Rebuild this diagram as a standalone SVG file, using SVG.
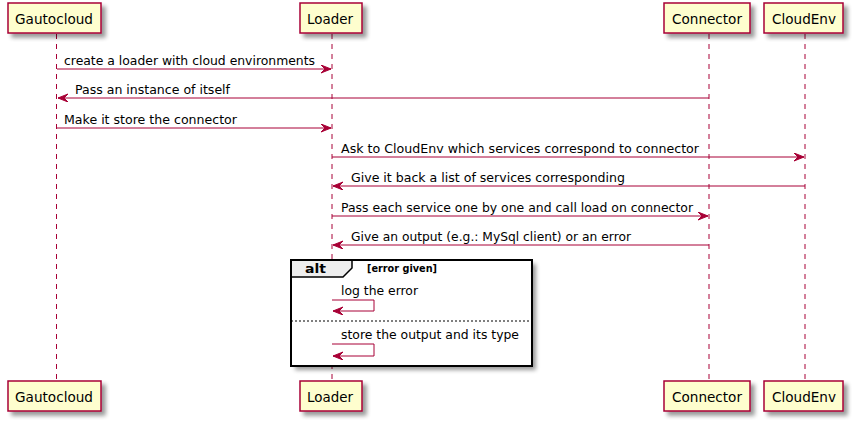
<svg xmlns="http://www.w3.org/2000/svg" width="854" height="422" viewBox="0 0 854 422">
<style>
.box{fill:#FEFECE;stroke:#A80036;stroke-width:1.5}
.life{stroke:#A80036;stroke-width:1;stroke-dasharray:5,5;fill:none}
.msg{stroke:#A80036;stroke-width:1;fill:none}
.pt{font-family:"DejaVu Sans",sans-serif;font-size:14px;fill:#000}
.mt{font-family:"DejaVu Sans",sans-serif;font-size:12.5px;fill:#000}
.alt{fill:none;stroke:#000;stroke-width:2}
</style>
<defs>
<filter id="sh" x="-20%" y="-20%" width="150%" height="160%">
<feGaussianBlur in="SourceAlpha" stdDeviation="2"/>
<feOffset dx="4" dy="4" result="b"/>
<feComponentTransfer><feFuncA type="linear" slope="0.4"/></feComponentTransfer>
<feMerge><feMergeNode/><feMergeNode in="SourceGraphic"/></feMerge>
</filter>
<marker id="ah" markerUnits="userSpaceOnUse" markerWidth="11" markerHeight="9" refX="10" refY="4" orient="auto" viewBox="0 0 11 9">
<path d="M0,0 L10,4 L0,8 L4,4 Z" fill="#A80036" stroke="#A80036" stroke-width="1"/>
</marker>
</defs>
<rect width="854" height="422" fill="#FFFFFF"/>
<g id="lifelines">
<line class="life" x1="56.5" y1="34" x2="56.5" y2="381"/>
<line class="life" x1="332" y1="34" x2="332" y2="381"/>
<line class="life" x1="709" y1="34" x2="709" y2="381"/>
<line class="life" x1="805" y1="34" x2="805" y2="381"/>
</g>
<g id="alt-frame">
<rect x="291" y="260" width="241" height="106" fill="#FFFFFF" filter="url(#sh)"/>
<path d="M291,260 L352,260 L352,268 L343,277 L291,277 Z" fill="#EEEEEE" stroke="#000" stroke-width="1.5"/>
<rect class="alt" x="291" y="260" width="241" height="106"/>
<text x="305" y="273" font-family="DejaVu Sans,sans-serif" font-size="12.5px" font-weight="bold" textLength="21" lengthAdjust="spacingAndGlyphs">alt</text>
<text x="367" y="272" font-family="DejaVu Sans,sans-serif" font-size="10px" font-weight="bold" textLength="70" lengthAdjust="spacingAndGlyphs">[error given]</text>
<line x1="291" y1="321" x2="532" y2="321" stroke="#000" stroke-width="1" stroke-dasharray="2,2"/>
</g>
<g id="p-gautocloud-top"><rect class="box" x="8" y="3" width="93" height="30" filter="url(#sh)"/><text class="pt" x="15" y="24" textLength="78" lengthAdjust="spacingAndGlyphs">Gautocloud</text></g>
<g id="p-loader-top"><rect class="box" x="300" y="3" width="62" height="30" filter="url(#sh)"/><text class="pt" x="307" y="24" textLength="46" lengthAdjust="spacingAndGlyphs">Loader</text></g>
<g id="p-connector-top"><rect class="box" x="664" y="3" width="86" height="30" filter="url(#sh)"/><text class="pt" x="672" y="24" textLength="70" lengthAdjust="spacingAndGlyphs">Connector</text></g>
<g id="p-cloudenv-top"><rect class="box" x="764" y="3" width="79" height="30" filter="url(#sh)"/><text class="pt" x="772" y="24" textLength="64" lengthAdjust="spacingAndGlyphs">CloudEnv</text></g>
<g id="p-gautocloud-bottom"><rect class="box" x="8" y="381" width="93" height="30" filter="url(#sh)"/><text class="pt" x="15" y="402" textLength="78" lengthAdjust="spacingAndGlyphs">Gautocloud</text></g>
<g id="p-loader-bottom"><rect class="box" x="300" y="381" width="62" height="30" filter="url(#sh)"/><text class="pt" x="307" y="402" textLength="46" lengthAdjust="spacingAndGlyphs">Loader</text></g>
<g id="p-connector-bottom"><rect class="box" x="664" y="381" width="86" height="30" filter="url(#sh)"/><text class="pt" x="672" y="402" textLength="70" lengthAdjust="spacingAndGlyphs">Connector</text></g>
<g id="p-cloudenv-bottom"><rect class="box" x="764" y="381" width="79" height="30" filter="url(#sh)"/><text class="pt" x="772" y="402" textLength="64" lengthAdjust="spacingAndGlyphs">CloudEnv</text></g>
<g id="connectors">
<line class="msg" x1="57" y1="69" x2="331" y2="69" marker-end="url(#ah)"/>
<line class="msg" x1="709" y1="98" x2="58" y2="98" marker-end="url(#ah)"/>
<line class="msg" x1="57" y1="128" x2="331" y2="128" marker-end="url(#ah)"/>
<line class="msg" x1="332" y1="157" x2="804" y2="157" marker-end="url(#ah)"/>
<line class="msg" x1="805" y1="186" x2="333" y2="186" marker-end="url(#ah)"/>
<line class="msg" x1="332" y1="216" x2="708" y2="216" marker-end="url(#ah)"/>
<line class="msg" x1="709" y1="245" x2="333" y2="245" marker-end="url(#ah)"/>
<polyline class="msg" points="332,300 374,300 374,311 333,311" marker-end="url(#ah)"/>
<polyline class="msg" points="332,344 374,344 374,356 333,356" marker-end="url(#ah)"/>
</g>
<g id="labels">
<text class="mt" x="64" y="65" textLength="251" lengthAdjust="spacingAndGlyphs">create a loader with cloud environments</text>
<text class="mt" x="75" y="94" textLength="155" lengthAdjust="spacingAndGlyphs">Pass an instance of itself</text>
<text class="mt" x="64" y="124" textLength="173" lengthAdjust="spacingAndGlyphs">Make it store the connector</text>
<text class="mt" x="341" y="153" textLength="358" lengthAdjust="spacingAndGlyphs">Ask to CloudEnv which services correspond to connector</text>
<text class="mt" x="351" y="182" textLength="274" lengthAdjust="spacingAndGlyphs">Give it back a list of services corresponding</text>
<text class="mt" x="341" y="212" textLength="352" lengthAdjust="spacingAndGlyphs">Pass each service one by one and call load on connector</text>
<text class="mt" x="351" y="241" textLength="280" lengthAdjust="spacingAndGlyphs">Give an output (e.g.: MySql client) or an error</text>
<text class="mt" x="341" y="295" textLength="77" lengthAdjust="spacingAndGlyphs">log the error</text>
<text class="mt" x="341" y="339" textLength="178" lengthAdjust="spacingAndGlyphs">store the output and its type</text>
</g>
</svg>
